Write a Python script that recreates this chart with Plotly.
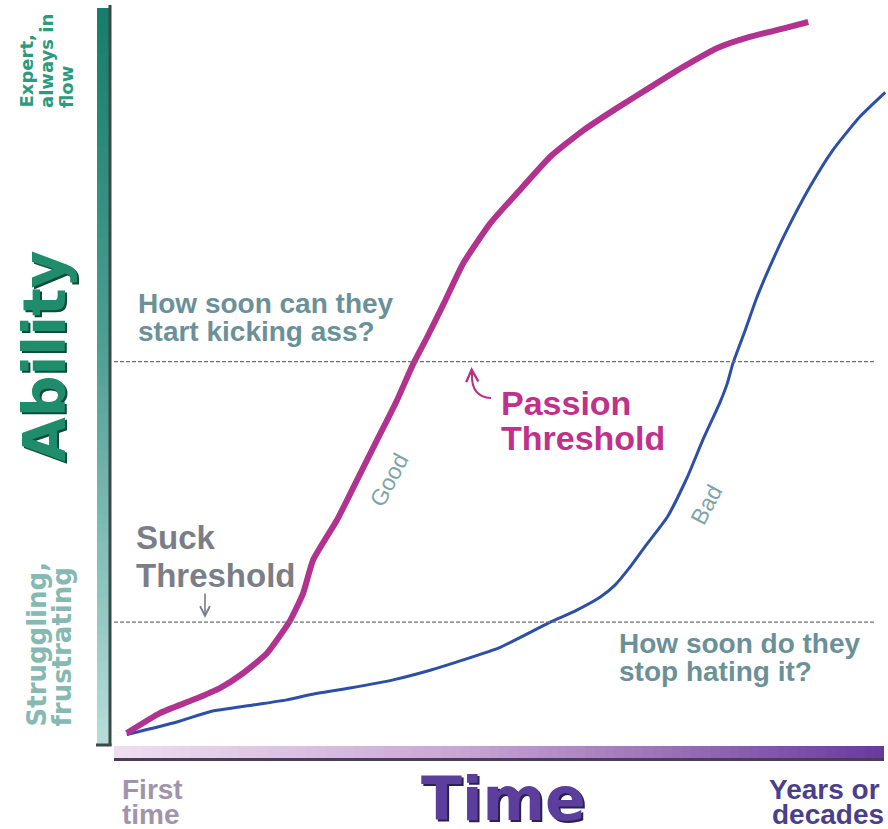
import plotly.graph_objects as go

W, H = 888, 829
ML, MR, MT, MB = 116, 2, 5, 84
PW, PH = W - ML - MR, H - MT - MB

# ability (0-100) over time (0-100)
good_x = [1.4, 5.7, 10.0, 13.5, 16.5, 19.6, 22.6, 24.3, 25.6, 28.7, 31.3, 33.9, 36.5, 38.6,
          40.4, 42.5, 45.1, 48.6, 52.1, 56.4, 60.6, 65.1, 69.4, 73.6, 78.1, 82.3, 86.6, 89.9]
good_y = [1.6, 4.3, 6.1, 7.7, 9.7, 12.4, 16.8, 20.5, 25.0, 30.4, 35.8, 41.2, 46.6, 51.5,
          55.1, 59.5, 65.1, 70.5, 74.6, 79.5, 83.0, 86.1, 88.9, 91.6, 94.2, 95.7, 96.8, 97.7]
bad_x = [1.4, 7.9, 12.2, 17.8, 22.2, 25.2, 30.4, 36.0, 40.8, 45.1, 49.9, 56.4, 59.6, 62.9,
         64.8, 66.8, 68.7, 71.6, 74.2, 76.2, 78.4, 79.4, 80.1, 81.7, 83.2, 84.9, 86.9, 90.1,
         93.1, 96.6, 99.9]
bad_y = [1.4, 3.1, 4.5, 5.4, 6.1, 6.8, 7.7, 8.8, 10.1, 11.5, 13.2, 16.6, 18.1, 20.0,
         21.6, 24.1, 26.8, 30.8, 36.2, 41.2, 46.2, 48.9, 51.5, 56.0, 60.4, 64.6, 69.1, 75.4,
         80.4, 84.9, 88.2]
threshold_names = ['Suck', 'Passion']
threshold_values = [16.6, 51.8]


def px(x):
    return (x - ML) / PW


def py(y):
    return (H - MB - y) / PH


def hex_rgb(c):
    c = c.lstrip('#')
    return [int(c[i:i + 2], 16) for i in (0, 2, 4)]


def color_at(stops, t):
    for (t0, c0), (t1, c1) in zip(stops, stops[1:]):
        if t <= t1:
            f = (t - t0) / (t1 - t0) if t1 > t0 else 0
            a, b = hex_rgb(c0), hex_rgb(c1)
            return 'rgb(%d,%d,%d)' % tuple(round(a[i] + (b[i] - a[i]) * f) for i in range(3))
    return stops[-1][1]


fig = go.Figure()

fig.add_trace(go.Scatter(
    x=bad_x, y=bad_y, mode='lines', name='Bad',
    line=dict(color='#2d4fa6', width=3, shape='spline', smoothing=0.5),
    hoverinfo='skip',
))
fig.add_trace(go.Scatter(
    x=good_x, y=good_y, mode='lines', name='Good',
    line=dict(color='#b1338f', width=6, shape='spline', smoothing=0.5),
    hoverinfo='skip',
))

shapes = []
# dashed threshold lines
for v in threshold_values:
    shapes.append(dict(type='line', xref='paper', yref='y', x0=px(114), x1=px(876), y0=v, y1=v,
                       line=dict(color='#707070', width=1.2, dash='4px,2px')))

# vertical "Ability" bar (gradient, top dark teal -> bottom pale)
n = 80
v_stops = [(0, '#167e6b'), (0.45, '#4c9e93'), (1, '#b6dcda')]
top, bot = 8, 745
for i in range(n):
    y0 = top + (bot - top) * i / n
    y1 = top + (bot - top) * (i + 1) / n + 0.8
    shapes.append(dict(type='rect', xref='paper', yref='paper', x0=px(97), x1=px(109),
                       y0=py(y0), y1=py(min(y1, bot)), fillcolor=color_at(v_stops, i / (n - 1)),
                       line=dict(width=0), layer='below'))
# horizontal "Time" bar (gradient, left pale pink -> right purple)
h_stops = [(0, '#efdef0'), (0.45, '#c9a5d5'), (1, '#6b3b9b')]
left, right = 114, 884
for i in range(n):
    x0 = left + (right - left) * i / n
    x1 = left + (right - left) * (i + 1) / n + 0.8
    shapes.append(dict(type='rect', xref='paper', yref='paper', x0=px(x0), x1=px(min(x1, right)),
                       y0=py(758), y1=py(746), fillcolor=color_at(h_stops, i / (n - 1)),
                       line=dict(width=0), layer='below'))
# dark edges of the bars
shapes += [
    dict(type='line', xref='paper', yref='paper', x0=px(110), x1=px(110), y0=py(5), y1=py(746),
         line=dict(color='#3a4848', width=3)),
    dict(type='line', xref='paper', yref='paper', x0=px(96), x1=px(111.5), y0=py(745), y1=py(745),
         line=dict(color='#3a4848', width=3)),
    dict(type='line', xref='paper', yref='paper', x0=px(114), x1=px(884), y0=py(759.5), y1=py(759.5),
         line=dict(color='#4a3d57', width=3)),
    # hook of the passion-threshold arrow
    dict(type='path', xref='paper', yref='paper',
         path='M %f,%f Q %f,%f %f,%f' % (px(491), py(398), px(471), py(397), px(472), py(374)),
         line=dict(color='#b8327f', width=2)),
]

ann = []


def label(text, x, y, size, color, family='Liberation Sans', bold=True, xanchor='left',
          yanchor='middle', angle=0):
    ann.append(dict(text=('<b>%s</b>' % text) if bold else text, x=px(x), y=py(y),
                    xref='paper', yref='paper', showarrow=False, xanchor=xanchor, yanchor=yanchor,
                    textangle=angle, font=dict(family=family, size=size, color=color)))


# big axis titles with drop shadow
label('Ability', 47.5, 358.5, 58, '#0f4a3c', 'DejaVu Sans', xanchor='center', angle=-90)
label('Ability', 45, 356, 58, '#1f8c6c', 'DejaVu Sans', xanchor='center', angle=-90)
label('Time', 505, 801, 60, '#2b2150', 'DejaVu Sans', xanchor='center')
label('Time', 503, 799, 60, '#5c3f9d', 'DejaVu Sans', xanchor='center')

# y-axis ends
for t, x in zip(['Expert,', 'always in', 'flow'], [26, 46, 66]):
    label(t, x, 110, 18, '#2c9a7c', 'DejaVu Sans', xanchor='center', yanchor='bottom', angle=-90)
for t, x in zip(['Struggling,', 'frustrating'], [36, 61]):
    label(t, x, 729, 26, '#86b9b1', 'DejaVu Sans', xanchor='center', yanchor='bottom', angle=-90)

# x-axis ends
label('First', 120, 789, 28, '#a094ad')
label('time', 120, 815, 28, '#a094ad')
label('Years or', 767, 789, 28, '#4b3f8c')
label('decades', 770, 815, 28, '#4b3f8c')

# questions
label('How soon can they', 136, 303, 28, '#6b9198')
label('start kicking ass?', 136, 331, 28, '#6b9198')
label('How soon do they', 617, 643, 28, '#6b9198')
label('stop hating it?', 617, 671, 28, '#6b9198')

# threshold names
label(threshold_names[0], 134, 537, 33, '#7b7e86')
label('Threshold', 134, 575, 33, '#7b7e86')
label(threshold_names[1], 499, 403, 34, '#c0318b')
label('Threshold', 499, 438, 34, '#c0318b')

# curve names
label('Good', 389, 480, 23, '#7ea4aa', bold=False, xanchor='center', angle=-62)
label('Bad', 706, 505, 23, '#7ea4aa', bold=False, xanchor='center', angle=-62)

# arrows
ann.append(dict(text='', x=px(205), y=py(618), xref='paper', yref='paper', showarrow=True,
                ax=0, ay=-26, arrowhead=5, arrowsize=1.2, arrowwidth=1.6, arrowcolor='#7b7e86'))
ann.append(dict(text='', x=px(471.5), y=py(367), xref='paper', yref='paper', showarrow=True,
                ax=0.5, ay=9, arrowhead=5, arrowsize=1.2, arrowwidth=2, arrowcolor='#b8327f'))

fig.update_layout(
    width=W, height=H,
    margin=dict(l=ML, r=MR, t=MT, b=MB),
    paper_bgcolor='white', plot_bgcolor='white',
    showlegend=False,
    xaxis=dict(range=[0, 100], visible=False, fixedrange=True),
    yaxis=dict(range=[0, 100], visible=False, fixedrange=True),
    shapes=shapes,
    annotations=ann,
)

# drop the browser's default body margin so the figure fills the window exactly
fig.write_html("out.html", config={'displayModeBar': False},
               post_script="document.body.style.margin='0';")
